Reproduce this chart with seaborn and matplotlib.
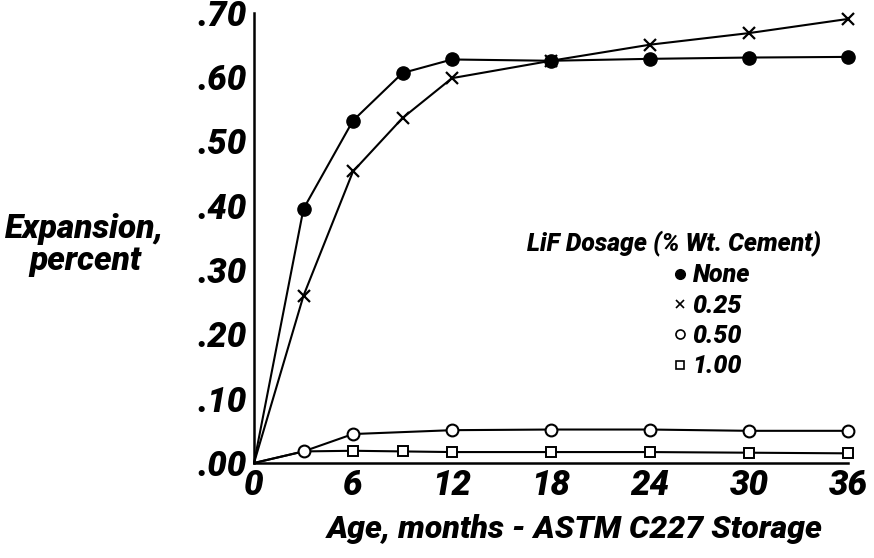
import matplotlib
matplotlib.use("Agg")
import matplotlib.pyplot as plt
from matplotlib.lines import Line2D
from matplotlib.ticker import FixedLocator, FuncFormatter
import seaborn as sns
import pandas as pd

# ---- data ----
months_none = [0, 3, 6, 9, 12, 18, 24, 30, 36]
exp_none = [0.0, 0.395, 0.532, 0.606, 0.627, 0.625, 0.628, 0.630, 0.631]

months_025 = [0, 3, 6, 9, 12, 18, 24, 30, 36]
exp_025 = [0.0, 0.26, 0.453, 0.536, 0.598, 0.625, 0.650, 0.668, 0.690]

months_050 = [0, 3, 6, 12, 18, 24, 30, 36]
exp_050 = [0.0, 0.018, 0.045, 0.051, 0.052, 0.052, 0.050, 0.050]

months_100 = [0, 3, 6, 9, 12, 18, 24, 30, 36]
exp_100 = [0.0, 0.018, 0.019, 0.018, 0.017, 0.017, 0.017, 0.016, 0.015]

series_labels = ["None", "0.25", "0.50", "1.00"]
x_ticks = [0, 6, 12, 18, 24, 30, 36]
y_ticks = [0.0, 0.1, 0.2, 0.3, 0.4, 0.5, 0.6, 0.7]

sns.set_style("white")
FONT = ["Roboto", "DejaVu Sans"]
plt.rcParams["font.family"] = FONT
plt.rcParams["font.weight"] = "black"
plt.rcParams["font.style"] = "italic"
for k in ["text.color", "axes.labelcolor", "xtick.color", "ytick.color",
          "axes.edgecolor"]:
    plt.rcParams[k] = "black"

fig = plt.figure(figsize=(8.74, 5.58), dpi=100)
ax = fig.add_axes([254 / 874, 95 / 558, (848 - 254) / 874, (463 - 12.5) / 558])

LW = 1.5
common = dict(color="black", linewidth=LW, ax=ax, legend=False)

d100 = pd.DataFrame({"m": months_100, "e": exp_100})
sns.lineplot(data=d100, x="m", y="e", marker="s", markersize=7,
             markerfacecolor="white", markeredgecolor="black",
             markeredgewidth=1.4, markevery=list(range(2, len(months_100))),
             zorder=3, clip_on=False, **common)

d050 = pd.DataFrame({"m": months_050, "e": exp_050})
sns.lineplot(data=d050, x="m", y="e", marker="o", markersize=8.5,
             markerfacecolor="white", markeredgecolor="black",
             markeredgewidth=1.5, markevery=list(range(1, len(months_050))),
             zorder=4, clip_on=False, **common)

d025 = pd.DataFrame({"m": months_025, "e": exp_025})
sns.lineplot(data=d025, x="m", y="e", marker="x", markersize=8,
             markeredgecolor="black", markeredgewidth=1.6,
             markevery=list(range(1, len(months_025))),
             zorder=5, clip_on=False, **common)

dnone = pd.DataFrame({"m": months_none, "e": exp_none})
sns.lineplot(data=dnone, x="m", y="e", marker="o", markersize=9.5,
             markerfacecolor="black", markeredgecolor="black",
             markeredgewidth=1.0, markevery=list(range(1, len(months_none))),
             zorder=6, clip_on=False, **common)

ax.set_xlim(0, 36)
ax.set_ylim(0, 0.70)

for s in ["top", "right"]:
    ax.spines[s].set_visible(False)
for s in ["left", "bottom"]:
    ax.spines[s].set_linewidth(1.8)
    ax.spines[s].set_color("black")

ax.xaxis.set_major_locator(FixedLocator(x_ticks))
ax.xaxis.set_minor_locator(FixedLocator([3, 9, 15, 21, 27, 33]))
ax.yaxis.set_major_locator(FixedLocator(y_ticks))
ax.yaxis.set_major_formatter(FuncFormatter(lambda v, p: f"{v:.2f}"[1:]))
ax.xaxis.set_major_formatter(FuncFormatter(lambda v, p: f"{int(round(v))}"))

ax.tick_params(axis="x", which="both", direction="in", length=7.5, width=1.4,
               pad=4, labelsize=25, colors="black")
ax.tick_params(axis="y", which="major", direction="in", length=15, width=1.4,
               pad=5, labelsize=25, colors="black")
for lab in ax.get_xticklabels() + ax.get_yticklabels():
    lab.set_fontweight("black")
    lab.set_fontstyle("italic")

ax.set_xlabel("")
ax.set_ylabel("")

fig.text(85 / 874, 1 - 245 / 558, "Expansion,\npercent", ha="center", va="center",
         multialignment="center", fontsize=24, fontweight="black", style="italic",
         linespacing=1.0)
fig.text(575 / 874, 1 - 529 / 558, "Age, months - ASTM C227 Storage", ha="center",
         va="center", fontsize=23, fontweight="black", style="italic")

fig.text(527 / 874, 1 - 244 / 558, "LiF Dosage (% Wt. Cement)", ha="left",
         va="center", fontsize=17.8, fontweight="black", style="italic")

handles = [
    Line2D([], [], linestyle="none", marker="o", color="black", markersize=7),
    Line2D([], [], linestyle="none", marker="x", color="black", markersize=6,
           markeredgewidth=1.2),
    Line2D([], [], linestyle="none", marker="o", markerfacecolor="white",
           markeredgecolor="black", markersize=6.5, markeredgewidth=1.2),
    Line2D([], [], linestyle="none", marker="s", markerfacecolor="white",
           markeredgecolor="black", markersize=6, markeredgewidth=1.2),
]
leg = ax.legend(handles, series_labels, loc="upper left",
                bbox_to_anchor=(660 / 874, 1 - 251 / 558),
                bbox_transform=fig.transFigure, frameon=False,
                handlelength=0.6, handletextpad=0.2, borderpad=0,
                labelspacing=0.25, prop=dict(family=FONT, size=18,
                                             weight="black", style="italic"))

fig.savefig("out.png", dpi=100)
